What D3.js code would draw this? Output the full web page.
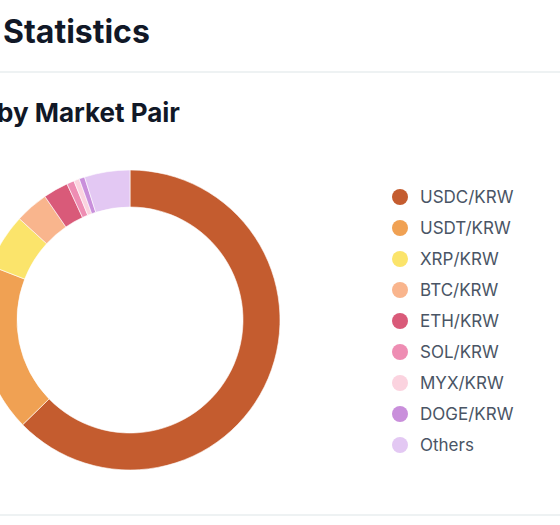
<!DOCTYPE html>
<html>
<head>
<meta charset="utf-8">
<script src="https://cdn.jsdelivr.net/npm/d3@7"></script>
<style>
  html, body { margin: 0; padding: 0; background: #fff; }
  svg { display: block; font-family: Inter, "Noto Sans", sans-serif; }
  .title { font-size: 32px; font-weight: 700; fill: #111827; }
  .subtitle { font-size: 26px; font-weight: 700; fill: #111827; }
  .legend text { font-size: 17px; fill: #4a5565; }
</style>
</head>
<body>
<div id="chart"></div>
<script>
// dane - udział par rynkowych (%)
const pairs = ["USDC/KRW", "USDT/KRW", "XRP/KRW", "BTC/KRW", "ETH/KRW", "SOL/KRW", "MYX/KRW", "DOGE/KRW", "Others"];
const shares = [62.7, 18.2, 5.9, 3.6, 2.7, 0.8, 0.6, 0.6, 4.9];
const colors = ["#c45c2f", "#f0a153", "#fbe46b", "#f9b58d", "#d95a79", "#ee8db3", "#fbd3df", "#c98fdb", "#e3c8f3"];

const WIDTH = 560, HEIGHT = 525;

const svg = d3.select("#chart").append("svg")
  .attr("width", WIDTH)
  .attr("height", HEIGHT);

// nagłówki
svg.append("text").attr("class", "title")
  .attr("x", 3).attr("y", 43)
  .text("Statistics");

svg.append("rect")
  .attr("x", 0).attr("y", 71).attr("width", WIDTH).attr("height", 2)
  .attr("fill", "#eef2f3");

svg.append("text").attr("class", "subtitle")
  .attr("x", -3).attr("y", 122)
  .text("by Market Pair");

svg.append("rect")
  .attr("x", 0).attr("y", 514).attr("width", WIDTH).attr("height", 2)
  .attr("fill", "#eef2f3");

// wykres pierścieniowy
const data = pairs.map((p, i) => ({ name: p, value: shares[i], color: colors[i] }));

const pie = d3.pie()
  .value(d => d.value)
  .sort(null);

const arc = d3.arc()
  .innerRadius(113)
  .outerRadius(150);

const donut = svg.append("g")
  .attr("transform", "translate(130,320)");

donut.selectAll("path")
  .data(pie(data))
  .enter()
  .append("path")
  .attr("d", arc)
  .attr("fill", d => d.data.color)
  .attr("stroke", "#fff")
  .attr("stroke-width", 0.6);

// legenda
const y = d3.scalePoint()
  .domain(pairs)
  .range([197, 445]);

const legend = svg.append("g").attr("class", "legend");

const items = legend.selectAll("g")
  .data(data)
  .enter()
  .append("g")
  .attr("transform", d => `translate(400,${y(d.name)})`);

items.append("circle")
  .attr("r", 8)
  .attr("fill", d => d.color);

items.append("text")
  .attr("x", 20)
  .attr("dy", "0.35em")
  .text(d => d.name);
</script>
</body>
</html>
